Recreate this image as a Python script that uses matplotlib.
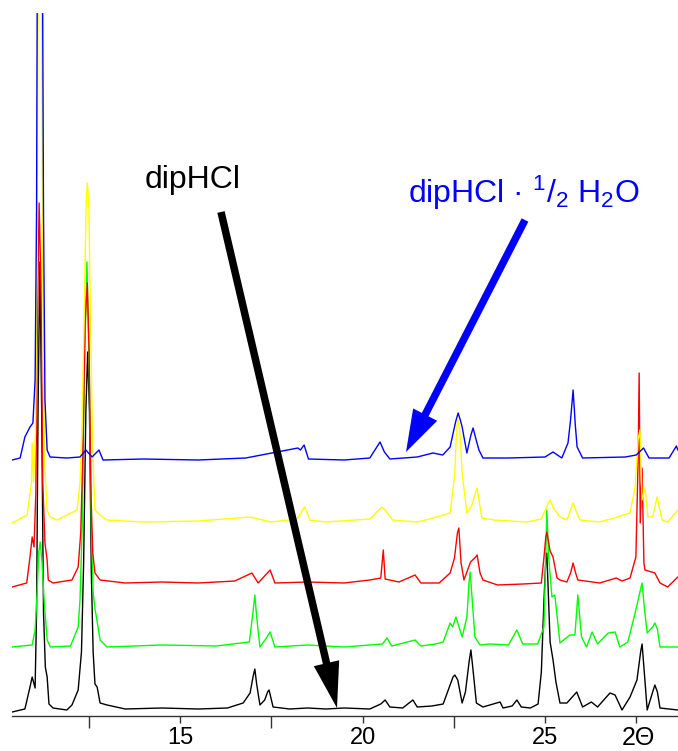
import matplotlib
matplotlib.use("Agg")
import matplotlib.pyplot as plt
from matplotlib.patches import FancyArrow

plt.rcParams['font.family'] = ['Liberation Sans', 'DejaVu Sans']
plt.rcParams['mathtext.fontset'] = 'custom'
plt.rcParams['mathtext.rm'] = 'Liberation Sans'

# Diffractogramme (2Theta, Intensitaet ueber der eigenen Grundlinie)
tt_black = [10.40, 10.75, 10.89, 10.95, 11.03, 11.07, 11.11, 11.16, 11.21, 11.26, 11.31, 11.36,
            11.41, 11.52, 11.90, 12.04, 12.21, 12.30, 12.36, 12.42, 12.47, 12.52, 12.57, 12.62,
            12.67, 12.73, 12.81, 13.00, 13.50, 14.50, 15.50, 16.30, 16.73, 16.92, 17.00, 17.05,
            17.10, 17.19, 17.32, 17.40, 17.44, 17.55, 18.00, 18.50, 19.00, 19.50, 20.20, 20.50,
            20.62, 20.75, 21.10, 21.38, 21.50, 21.90, 22.21, 22.35, 22.48, 22.53, 22.61, 22.73,
            22.82, 22.92, 22.97, 23.02, 23.12, 23.30, 23.77, 23.85, 24.10, 24.23, 24.35, 24.60,
            24.81, 24.90, 24.97, 25.02, 25.05, 25.09, 25.14, 25.22, 25.30, 25.41, 25.60, 25.87,
            26.03, 26.27, 26.44, 26.78, 26.92, 27.11, 27.33, 27.52, 27.62, 27.66, 27.72, 27.80,
            27.95, 28.01, 28.08, 28.15, 28.64]
I_black = [0, 3, 25, 35, 24, 100, 300, 450, 300, 100, 45, 35,
           8, 4, 2, 7, 22, 60, 150, 300, 360, 300, 140, 60,
           28, 25, 9, 7, 3, 4, 3, 4, 9, 19, 35, 43,
           28, 7, 12, 20, 22, 5, 3, 4, 3, 4, 3, 8,
           12, 5, 4, 12, 5, 6, 8, 22, 35, 37, 32, 9,
           20, 50, 62, 45, 9, 5, 10, 4, 6, 12, 5, 4,
           8, 40, 110, 150, 159, 120, 70, 52, 30, 9, 9, 20,
           5, 10, 5, 19, 17, 2, 15, 32, 60, 68, 40, 2,
           20, 27, 20, 4, 2]

tt_green = [10.40, 10.95, 11.03, 11.08, 11.13, 11.17, 11.22, 11.28, 11.36, 11.45, 12.00, 12.21,
            12.26, 12.32, 12.38, 12.45, 12.51, 12.57, 12.62, 12.67, 12.70, 12.81, 13.00, 14.50,
            16.00, 16.90, 17.00, 17.05, 17.10, 17.19, 17.35, 17.47, 17.60, 18.50, 19.50, 20.55,
            20.67, 20.80, 21.44, 21.60, 22.00, 22.21, 22.40, 22.47, 22.56, 22.73, 22.86, 22.92,
            22.95, 22.99, 23.08, 23.22, 23.50, 24.00, 24.23, 24.39, 24.80, 24.97, 25.00, 25.05,
            25.10, 25.19, 25.27, 25.41, 25.68, 25.82, 25.90, 26.00, 26.14, 26.29, 26.44, 26.73,
            26.92, 27.05, 27.27, 27.47, 27.62, 27.66, 27.72, 27.80, 27.95, 28.01, 28.08, 28.15,
            28.64]
I_green = [0, 2, 17, 50, 95, 105, 85, 45, 7, 0, 1, 20,
           47, 120, 280, 385, 280, 120, 55, 38, 32, 7, 0, 2,
           1, 5, 35, 52, 30, 0, 8, 15, 0, 2, 0, 3,
           9, 1, 7, 1, 3, 5, 24, 20, 30, 10, 30, 65,
           75, 55, 10, 2, 3, 2, 17, 3, 3, 20, 60, 137,
           90, 50, 52, 4, 12, 12, 52, 10, 0, 15, 3, 14,
           15, 0, 5, 34, 58, 64, 40, 14, 20, 24, 18, 0,
           0]

tt_red = [10.40, 10.80, 10.89, 10.95, 11.00, 11.05, 11.09, 11.14, 11.19, 11.24, 11.30, 11.36,
          11.39, 11.52, 12.04, 12.21, 12.28, 12.34, 12.40, 12.46, 12.51, 12.56, 12.61, 12.67,
          12.81, 13.50, 14.50, 15.50, 16.50, 16.97, 17.14, 17.47, 17.60, 18.50, 19.50, 20.20,
          20.50, 20.57, 20.62, 21.00, 21.44, 21.60, 22.10, 22.40, 22.52, 22.60, 22.64, 22.70,
          22.78, 22.96, 23.10, 23.14, 23.22, 23.30, 23.70, 24.40, 24.90, 24.97, 25.02, 25.05,
          25.14, 25.22, 25.33, 25.41, 25.60, 25.70, 25.77, 25.84, 25.90, 26.50, 26.95, 27.11,
          27.33, 27.49, 27.55, 27.58, 27.61, 27.66, 27.71, 27.74, 28.01, 28.15, 28.36, 28.64]
I_red = [-4, 0, 26, 46, 36, 90, 250, 380, 300, 100, 40, 23,
         3, 0, 3, 16, 50, 130, 260, 300, 230, 90, 30, 10,
         3, 0, 1, 0, 2, 10, 0, 13, 0, 1, 0, 3,
         5, 33, 4, 1, 8, 0, 0, 10, 25, 50, 55, 20,
         3, 21, 26, 28, 10, 3, -2, -1, 0, 25, 45, 51,
         32, 26, 5, 3, 1, 10, 20, 10, 3, 0, 5, 2,
         5, 26, 120, 210, 60, 115, 20, 13, 10, 0, -4, 6]

tt_yellow = [10.40, 10.81, 10.93, 10.95, 10.99, 11.04, 11.08, 11.12, 11.20, 11.24, 11.29, 11.36,
             11.44, 11.63, 12.18, 12.26, 12.32, 12.38, 12.43, 12.46, 12.50, 12.55, 12.60, 12.64,
             12.67, 12.81, 12.99, 14.00, 15.50, 16.92, 17.50, 18.20, 18.42, 18.56, 19.00, 20.20,
             20.53, 20.62, 20.83, 21.50, 22.04, 22.40, 22.53, 22.58, 22.62, 22.67, 22.73, 22.86,
             23.00, 23.10, 23.14, 23.27, 23.60, 24.50, 24.90, 25.08, 25.14, 25.22, 25.41, 25.60,
             25.72, 25.77, 25.84, 25.96, 26.50, 26.90, 27.33, 27.47, 27.55, 27.60, 27.66, 27.74,
             27.82, 27.95, 28.07, 28.21, 28.36, 28.64]
I_yellow = [-1, 7, 39, 79, 40, 90, 250, 600, 600, 250, 60, 12,
            5, 2, 12, 39, 100, 220, 320, 339, 320, 200, 90, 40,
            12, 7, 2, 0, 1, 5, 0, 3, 15, 2, 0, 3,
            15, 12, 2, 0, 5, 9, 49, 95, 102, 90, 49, 9,
            17, 30, 34, 4, 2, 0, 3, 18, 22, 15, 5, 2,
            14, 19, 12, 2, 0, 4, 9, 35, 82, 92, 22, 34,
            5, 5, 25, 2, 0, 12]

tt_blue = [10.40, 10.62, 10.75, 10.89, 10.97, 11.03, 11.07, 11.10, 11.22, 11.26, 11.30, 11.36,
           11.44, 11.90, 12.26, 12.42, 12.59, 12.78, 12.89, 14.00, 15.50, 16.80, 18.23, 18.30,
           18.40, 18.52, 19.50, 20.20, 20.48, 20.60, 20.75, 21.50, 21.93, 22.20, 22.40, 22.55,
           22.62, 22.68, 22.73, 22.86, 22.97, 23.03, 23.10, 23.19, 23.30, 24.00, 25.00, 25.22,
           25.46, 25.63, 25.70, 25.77, 25.83, 25.88, 26.03, 27.20, 27.50, 27.70, 27.85, 28.40,
           28.60, 28.64]
I_blue = [0, 2, 23, 33, 37, 80, 250, 600, 600, 250, 60, 10,
          3, 2, 3, 10, 3, 10, 0, 1, 0, 2, 12, 10,
          15, 1, 0, 2, 18, 8, 1, 3, 7, 5, 13, 38,
          47, 40, 33, 7, 25, 32, 22, 10, 2, 2, 3, 8,
          2, 17, 40, 70, 35, 13, 2, 3, 5, 12, 2, 2,
          14, 10]

traces = [(tt_black, I_black, 4, '#000000'),
          (tt_green, I_green, 69, '#00ff00'),
          (tt_red, I_red, 133, '#ff0000'),
          (tt_yellow, I_yellow, 194, '#ffff00'),
          (tt_blue, I_blue, 256, '#0000ff')]

fig = plt.figure(figsize=(6.78, 7.51), dpi=100)
ax = fig.add_axes([12 / 678, 35 / 751, 666 / 678, 703 / 751])

for tt, inten, offset, col in traces:
    ax.plot(tt, [v + offset for v in inten], color=col, lw=1.0)

ax.set_xlim(10.397, 28.644)
ax.set_ylim(0, 703)
ax.set_yticks([])
for side in ['left', 'right', 'top']:
    ax.spines[side].set_visible(False)
ax.spines['bottom'].set_color('#333333')
ax.spines['bottom'].set_linewidth(1.0)
ax.set_xticks([15, 20, 25, 27.5])
ax.set_xticklabels(['15', '20', '25', ''])
ax.set_xticks([12.5, 17.5, 22.5], minor=True)
ax.tick_params(axis='x', which='major', direction='out', length=5, width=1,
               color='#333333', labelsize=17, pad=3)
ax.tick_params(axis='x', which='minor', direction='out', length=8.6, width=1,
               color='#333333')

# Beschriftungen und Pfeile in Pixelkoordinaten
ov = fig.add_axes([0, 0, 1, 1])
ov.set_xlim(0, 678)
ov.set_ylim(751, 0)
ov.axis('off')
ov.patch.set_alpha(0)

ov.add_patch(FancyArrow(221, 212, 337 - 221, 708 - 212, width=7.5, head_width=26,
                        head_length=46, length_includes_head=True, color='black', lw=0))
ov.add_patch(FancyArrow(525, 220, 406 - 525, 452 - 220, width=7.5, head_width=27,
                        head_length=42, length_includes_head=True, color='#0000ff', lw=0))

ov.text(145, 188, 'dipHCl', fontsize=23, color='black', ha='left', va='baseline')
ov.text(408, 203, r'dipHCl · $\mathregular{^1/_2}$ H$\mathregular{_2}$O', fontsize=23,
        color='#0000ff', ha='left', va='baseline')
ov.text(638, 745, '2Θ', fontsize=18, color='black', ha='center', va='baseline')

fig.savefig('out.png', dpi=100)
